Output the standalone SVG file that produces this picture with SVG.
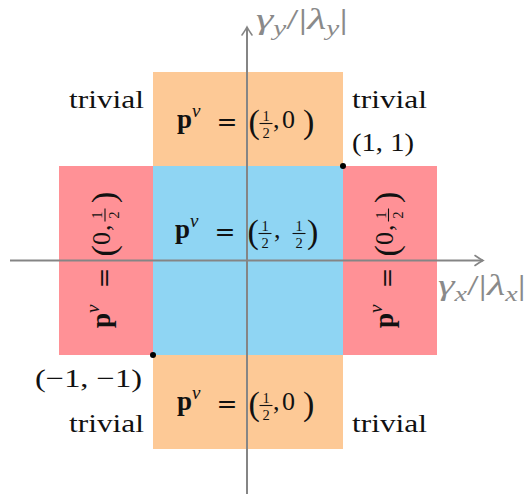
<svg xmlns="http://www.w3.org/2000/svg" width="531" height="494" viewBox="0 0 531 494">
<style>
text{font-family:"Liberation Serif","Times New Roman",serif;fill:#111;}
.b{font-weight:bold;font-size:27px;}
.sup{font-style:italic;font-size:19px;}
.eq{font-family:"DejaVu Serif",serif;font-size:25px;text-anchor:middle;}
.par{font-size:34px;}
.d{font-size:26px;}
.fr{font-size:14.5px;text-anchor:middle;}
.bar{stroke:#111;stroke-width:1.1;}
.t{font-size:26px;}
.ax{font-style:italic;font-size:30px;fill:#8a8a8a;}
.sub{font-size:20px;}
.orange{fill:#FDC996;}
.blue{fill:#8FD5F3;}
.red{fill:#FF9196;}
.axis{stroke:#858585;stroke-width:2;fill:none;}
</style>
<defs>
<marker id="arr" markerUnits="userSpaceOnUse" markerWidth="14" markerHeight="14" refX="0" refY="0" viewBox="-10 -7 12 14" orient="auto">
<path d="M-8,-5 Q-3,-1.5 0,0 Q-3,1.5 -8,5" fill="none" stroke="#858585" stroke-width="1.6" stroke-linecap="round"/>
</marker>
</defs>
<g id="region-top">
<rect class="orange" x="153" y="72" width="190" height="94"/>
</g>
<g id="region-bottom">
<rect class="orange" x="153" y="355" width="190" height="94"/>
</g>
<g id="region-left">
<rect class="red" x="59" y="166" width="94" height="189"/>
</g>
<g id="region-right">
<rect class="red" x="343" y="166" width="94" height="189"/>
</g>
<g id="region-center">
<rect class="blue" x="153" y="166" width="190" height="189"/>
</g>
<g id="connectors">
<line class="axis" x1="247" y1="494" x2="247" y2="27" marker-end="url(#arr)"/>
<line class="axis" x1="10" y1="260.5" x2="483" y2="260.5" marker-end="url(#arr)"/>
</g>
<g id="corner-points">
<circle cx="343" cy="166" r="3" fill="#000"/>
<circle cx="153" cy="355" r="3" fill="#000"/>
</g>
<g id="label-top" transform="translate(177,128)">
<text class="b" x="0" y="0">p</text>
<text class="sup" x="15" y="-11">ν</text>
<text class="eq" x="50" y="2">=</text>
<text class="par" x="71.5" y="5">(</text>
<text class="fr" x="89" y="-7.5">1</text>
<line class="bar" x1="82.5" y1="-4.5" x2="95.5" y2="-4.5"/>
<text class="fr" x="89" y="9.5">2</text>
<text class="d" x="96" y="0">,</text>
<text class="d" x="105" y="0">0</text>
<text class="par" x="126" y="5">)</text>
</g>
<g id="label-center" transform="translate(175,238)">
<text class="b" x="0" y="0">p</text>
<text class="sup" x="15" y="-11">ν</text>
<text class="eq" x="50" y="2">=</text>
<text class="par" x="72.5" y="5">(</text>
<text class="fr" x="90" y="-7.5">1</text>
<line class="bar" x1="83.5" y1="-4.5" x2="96.5" y2="-4.5"/>
<text class="fr" x="90" y="9.5">2</text>
<text class="d" x="99" y="0">,</text>
<text class="fr" x="124" y="-7.5">1</text>
<line class="bar" x1="117.5" y1="-4.5" x2="130.5" y2="-4.5"/>
<text class="fr" x="124" y="9.5">2</text>
<text class="par" x="132" y="5">)</text>
</g>
<g id="label-bottom" transform="translate(177,410)">
<text class="b" x="0" y="0">p</text>
<text class="sup" x="15" y="-11">ν</text>
<text class="eq" x="50" y="2">=</text>
<text class="par" x="71.5" y="5">(</text>
<text class="fr" x="89" y="-7.5">1</text>
<line class="bar" x1="82.5" y1="-4.5" x2="95.5" y2="-4.5"/>
<text class="fr" x="89" y="9.5">2</text>
<text class="d" x="96" y="0">,</text>
<text class="d" x="105" y="0">0</text>
<text class="par" x="126" y="5">)</text>
</g>
<g id="label-left" transform="translate(105.5,261) rotate(-90) translate(-67,4)">
<text class="b" x="0" y="0">p</text>
<text class="sup" x="15" y="-11">ν</text>
<text class="eq" x="50" y="2">=</text>
<text class="par" x="71.5" y="5">(</text>
<text class="d" x="83" y="0">0</text>
<text class="d" x="97" y="0">,</text>
<text class="fr" x="113" y="-7.5">1</text>
<line class="bar" x1="106.5" y1="-4.5" x2="119.5" y2="-4.5"/>
<text class="fr" x="113" y="9.5">2</text>
<text class="par" x="125" y="5">)</text>
</g>
<g id="label-right" transform="translate(389,261) rotate(-90) translate(-67,4)">
<text class="b" x="0" y="0">p</text>
<text class="sup" x="15" y="-11">ν</text>
<text class="eq" x="50" y="2">=</text>
<text class="par" x="71.5" y="5">(</text>
<text class="d" x="83" y="0">0</text>
<text class="d" x="97" y="0">,</text>
<text class="fr" x="113" y="-7.5">1</text>
<line class="bar" x1="106.5" y1="-4.5" x2="119.5" y2="-4.5"/>
<text class="fr" x="113" y="9.5">2</text>
<text class="par" x="125" y="5">)</text>
</g>
<g id="trivial-tl"><text class="t" x="69" y="108" textLength="75" lengthAdjust="spacingAndGlyphs">trivial</text></g>
<g id="trivial-tr"><text class="t" x="352" y="108" textLength="75" lengthAdjust="spacingAndGlyphs">trivial</text></g>
<g id="trivial-bl"><text class="t" x="69" y="432" textLength="75" lengthAdjust="spacingAndGlyphs">trivial</text></g>
<g id="trivial-br"><text class="t" x="352" y="432" textLength="75" lengthAdjust="spacingAndGlyphs">trivial</text></g>
<g id="point-11"><text class="t" x="352" y="151" textLength="62" lengthAdjust="spacingAndGlyphs">(1, 1)</text></g>
<g id="point-m1m1"><text class="t" x="35" y="387" textLength="107" lengthAdjust="spacingAndGlyphs">(−1, −1)</text></g>
<g id="axis-label-y"><text class="ax" x="256" y="29" textLength="92" lengthAdjust="spacingAndGlyphs">γ<tspan class="sub" dy="6">y</tspan><tspan dy="-6" style="font-style:normal">/|</tspan>λ<tspan class="sub" dy="6">y</tspan><tspan dy="-6" style="font-style:normal">|</tspan></text></g>
<g id="axis-label-x"><text class="ax" x="438" y="295" textLength="88" lengthAdjust="spacingAndGlyphs">γ<tspan class="sub" dy="6">x</tspan><tspan dy="-6" style="font-style:normal">/|</tspan>λ<tspan class="sub" dy="6">x</tspan><tspan dy="-6" style="font-style:normal">|</tspan></text></g>
</svg>
